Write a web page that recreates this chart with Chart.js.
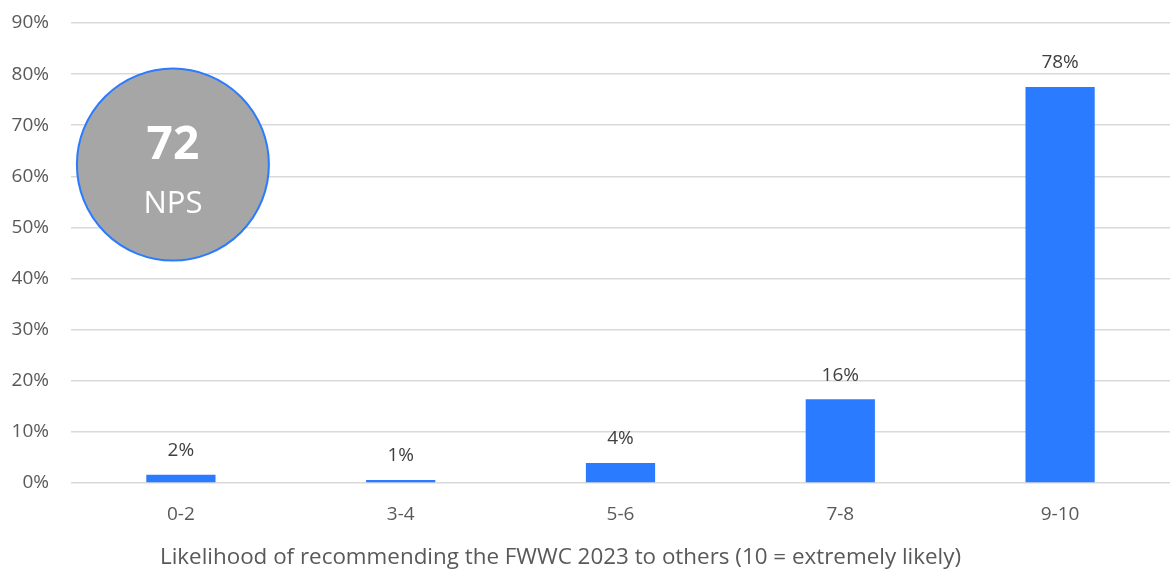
<!DOCTYPE html>
<html>
<head>
<meta charset="utf-8">
<script src="https://cdn.jsdelivr.net/npm/chart.js@4"></script>
<style>
  html, body { margin: 0; padding: 0; background: #fff; }
  #wrap { width: 1170px; height: 570px; position: relative; }
</style>
</head>
<body>
<div id="wrap"><canvas id="npsChart"></canvas></div>
<script>
// Likelihood buckets and share of respondents (%)
const categories = ['0-2', '3-4', '5-6', '7-8', '9-10'];
const shares = [1.6, 0.6, 3.9, 16.4, 77.5];
const shareLabels = ['2%', '1%', '4%', '16%', '78%'];
const yTicks = [0, 10, 20, 30, 40, 50, 60, 70, 80, 90];
const npsScore = '72';
const npsLabel = 'NPS';
const xTitle = 'Likelihood of recommending the FWWC 2023 to others (10 = extremely likely)';

const FONT = "'Open Sans', 'Liberation Sans', sans-serif";
const TEXT = '#595959';
const BLUE = '#2a7bff';

// value labels above each bar
const barLabels = {
  id: 'barLabels',
  afterDatasetsDraw(chart) {
    const { ctx } = chart;
    const meta = chart.getDatasetMeta(0);
    ctx.save();
    ctx.font = `19px ${FONT}`;
    ctx.fillStyle = '#404040';
    ctx.textAlign = 'center';
    ctx.textBaseline = 'middle';
    meta.data.forEach((bar, i) => {
      ctx.fillText(shareLabels[i], bar.x, bar.y - 24);
    });
    ctx.restore();
  }
};

// x axis title sits a little left of the plot centre in the original
const axisTitle = {
  id: 'axisTitle',
  afterDraw(chart) {
    const { ctx, scales } = chart;
    const x = scales.x;
    ctx.save();
    ctx.font = `22.4px ${FONT}`;
    ctx.fillStyle = TEXT;
    ctx.textAlign = 'center';
    ctx.textBaseline = 'middle';
    ctx.fillText(xTitle, x.left + x.width / 2 - 60, x.bottom - 12);
    ctx.restore();
  }
};

// NPS badge in the upper left
const npsBadge = {
  id: 'npsBadge',
  afterDraw(chart) {
    const { ctx, scales } = chart;
    const cx = scales.x.getPixelForValue(0) - 8;
    const cy = scales.y.getPixelForValue(62.3);
    const r = 96;
    ctx.save();
    ctx.beginPath();
    ctx.arc(cx, cy, r, 0, Math.PI * 2);
    ctx.fillStyle = '#a6a6a6';
    ctx.fill();
    ctx.lineWidth = 2;
    ctx.strokeStyle = BLUE;
    ctx.stroke();
    ctx.fillStyle = '#fff';
    ctx.textAlign = 'center';
    ctx.textBaseline = 'middle';
    ctx.font = `bold 46px ${FONT}`;
    ctx.fillText(npsScore, cx, cy - 19);
    ctx.font = `31px ${FONT}`;
    ctx.fillText(npsLabel, cx, cy + 40);
    ctx.restore();
  }
};

new Chart(document.getElementById('npsChart'), {
  type: 'bar',
  data: {
    labels: categories,
    datasets: [{
      data: shares,
      backgroundColor: BLUE,
      categoryPercentage: 1,
      barPercentage: 0.315
    }]
  },
  options: {
    responsive: true,
    maintainAspectRatio: false,
    animation: false,
    layout: { padding: { top: 0, right: 0, left: 0, bottom: 0 } },
    plugins: {
      legend: { display: false },
      tooltip: { enabled: false }
    },
    scales: {
      x: {
        grid: { display: false },
        border: { display: false },
        ticks: { color: TEXT, font: { family: FONT, size: 19 }, padding: 12 },
        title: {
          // reserves the space; the text itself is drawn by axisTitle
          display: true,
          text: xTitle,
          color: 'rgba(0,0,0,0)',
          font: { family: FONT, size: 21 },
          padding: { top: 7, bottom: 0 }
        }
      },
      y: {
        min: 0,
        max: 90,
        afterBuildTicks: (axis) => { axis.ticks = yTicks.map(v => ({ value: v })); },
        afterFit: (axis) => { axis.width = 71; axis.paddingTop = 23; },
        grid: { color: '#d9d9d9', lineWidth: 1.5, drawTicks: false },
        border: { display: false },
        ticks: {
          color: TEXT,
          font: { family: FONT, size: 19 },
          padding: 22,
          callback: (v) => v + '%'
        }
      }
    }
  },
  plugins: [barLabels, axisTitle, npsBadge]
});
</script>
</body>
</html>
